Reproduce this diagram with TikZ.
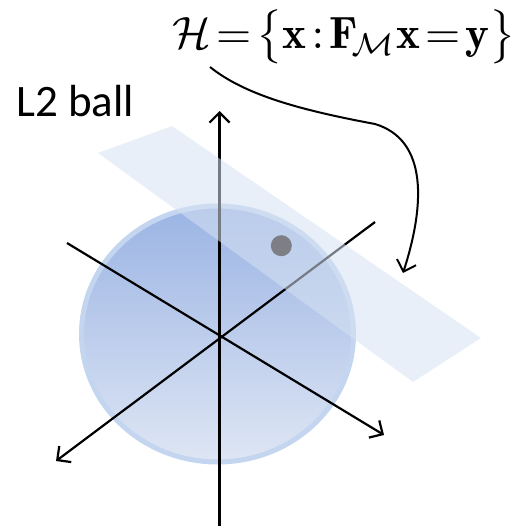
\documentclass[tikz,border=0pt]{standalone}
\usepackage{fontspec}
\newfontfamily\calib{Carlito}
\usepackage{amsmath}
\usetikzlibrary{arrows.meta}
\definecolor{balltop}{RGB}{155,180,228}
\definecolor{ballbot}{RGB}{222,230,244}
\definecolor{ballrim}{RGB}{196,213,240}
\definecolor{planec}{RGB}{214,226,242}
\definecolor{dotc}{RGB}{125,127,132}
\newcommand{\mylb}{\mathopen{\vcenter{\hbox{$\bigl\{$}}}}
\newcommand{\myrb}{\mathclose{\vcenter{\hbox{$\bigr\}$}}}}
\tikzset{
  axis/.style={line width=2.2pt, black},
  tip/.style={-{Straight Barb[length=10pt,width=20pt,line width=2.2pt]}},
}
\begin{document}
\begin{tikzpicture}[x=1pt,y=-1pt]
\useasboundingbox (0,0) rectangle (519,526);
% ball
\shade[top color=balltop, bottom color=ballbot, draw=ballrim, line width=5pt]
  (217.5,334) ellipse [x radius=136, y radius=128];
% axes
\coordinate (O) at (220,337);
\coordinate (vt) at (219.5,111);
\coordinate (vb) at (219.5,526);
\coordinate (ul) at (67,243);
\coordinate (lr) at (384,435);
\coordinate (ur) at (375,222);
\coordinate (ll) at (56,461);
\draw[axis,tip] (vb) -- (vt);
\draw[axis,tip] (ul) -- (lr);
\draw[axis,tip] (ur) -- (ll);
% plane
\fill[planec, opacity=0.55] (98,153) -- (172,126) -- (481,338) -- (413,382) -- cycle;
% point
\fill[dotc] (281.3,245.7) circle (10.5);
% labels
\node[anchor=base west, inner sep=0pt, font=\calib\fontsize{45}{50}\selectfont] (lab) at (16,116.7) {L2 ball};
\node[inner sep=0pt] (H) at (344,37) {\resizebox{343pt}{!}{$\mathcal{H}\!=\!\mylb\mathbf{x}\!:\!\mathbf{F}_{\!\mathcal{M}}\mathbf{x}\!=\!\mathbf{y}\myrb$}};
\coordinate (hs) at (210,67);
\coordinate (he) at (403,273);
\draw[line width=2pt, -{Straight Barb[length=10pt,width=20pt,line width=2pt]}]
  (hs) .. controls (245,95) and (300,110) .. (375,124)
  .. controls (428,140) and (425,205) .. (he);
\end{tikzpicture}
\end{document}
